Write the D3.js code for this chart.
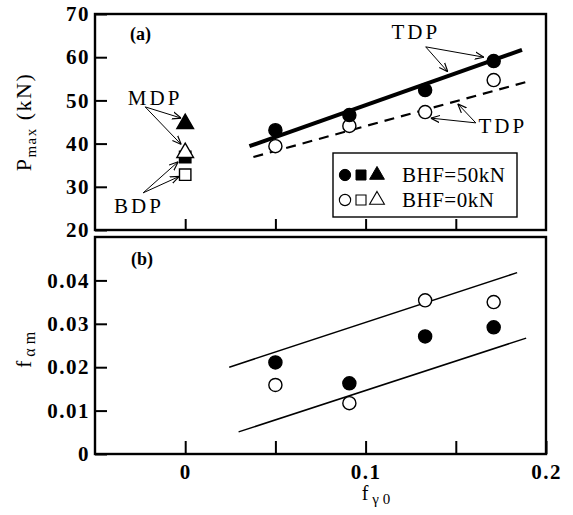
<!DOCTYPE html>
<html>
<head>
<meta charset="utf-8">
<script src="https://cdn.jsdelivr.net/npm/d3@7"></script>
<style>
  body { margin: 0; background: #fff; }
  svg { display: block; }
  text { font-family: "Liberation Serif", "Times New Roman", serif; fill: #000; }
</style>
</head>
<body>
<div id="chart"></div>
<script>
// ---------------------------------------------------
// DATA
// ---------------------------------------------------
const fGamma0 = [0.05, 0.091, 0.133, 0.171];       // x positions of TDP tests
const pmaxBHF50 = [43.1, 46.6, 52.4, 59.1];        // filled circles, panel (a)
const pmaxBHF0 = [39.4, 44.1, 47.3, 54.7];         // open circles, panel (a)
const mdpPmax = [44.6, 37.9];                      // triangles at f=0 [BHF=50, BHF=0]
const bdpPmax = [36.9, 32.8];                      // squares at f=0   [BHF=50, BHF=0]
const famBHF50 = [0.0211, 0.0163, 0.0271, 0.0292]; // filled circles, panel (b)
const famBHF0 = [0.0159, 0.0117, 0.0354, 0.0350];  // open circles, panel (b)

const tdpLine50 = [[0.0356, 39.4], [0.1867, 61.7]];
const tdpLine0 = [[0.0378, 36.9], [0.191, 54.5]];
const famUpper = [[0.0244, 0.0200], [0.184, 0.0418]];
const famLower = [[0.0296, 0.0051], [0.189, 0.0267]];

const pTicks = [20, 30, 40, 50, 60, 70];
const famTicks = [0, 0.01, 0.02, 0.03, 0.04];
const xTicks = [0, 0.05, 0.1, 0.15, 0.2];
const xTickLabels = ["0", "", "0.1", "", "0.2"];

// annotations, in data units: label, label position, arrow start, arrow targets
const notes = [
  { text: "MDP", at: [-0.0167, 50.6], from: [-0.0222, 48.5], to: [[-0.0022, 45.9], [-0.0022, 39.8]] },
  { text: "BDP", at: [-0.0256, 25.6], from: [-0.0233, 28.6], to: [[-0.0039, 35.8], [-0.0033, 32.4]] },
  { text: "TDP", at: [0.1278, 65.8], from: [0.1333, 62.4], to: [[0.1656, 60.0], [0.1456, 56.6]] },
  { text: "TDP", at: [0.1761, 44.1], from: [0.1611, 44.8], to: [[0.1361, 45.9], [0.1511, 49.2]] }
];

// ---------------------------------------------------
// SVG + SCALES
// ---------------------------------------------------
const width = 573, height = 515;
const svg = d3.select("#chart").append("svg")
  .attr("width", width).attr("height", height);

const x = d3.scaleLinear().domain([-0.05, 0.2]).range([95, 546]);
const yA = d3.scaleLinear().domain([20, 70]).range([230, 14]);
const yB = d3.scaleLinear().domain([0, 0.05]).range([454, 237]);

const defs = svg.append("defs");
defs.append("marker")
  .attr("id", "arr")
  .attr("viewBox", "0 0 10 10")
  .attr("refX", 10).attr("refY", 5)
  .attr("markerWidth", 9).attr("markerHeight", 9)
  .attr("markerUnits", "userSpaceOnUse")
  .attr("orient", "auto")
  .append("path")
  .attr("d", "M0,1 L10,5 L0,9")
  .attr("fill", "none")
  .attr("stroke", "#000")
  .attr("stroke-width", 1.3);

// ---------------------------------------------------
// AXES (ticks point inward)
// ---------------------------------------------------
const styleAxis = (g) => {
  g.select(".domain").remove();
  g.selectAll(".tick line").attr("stroke", "#000").attr("stroke-width", 2);
  g.selectAll(".tick text")
    .attr("fill", "#000")
    .style("font-family", "'Liberation Serif', serif")
    .style("font-size", "21px")
    .style("font-weight", "bold")
    .style("letter-spacing", "1.5px");
};

svg.append("g").attr("transform", "translate(95,0)")
  .call(d3.axisLeft(yA).tickValues(pTicks).tickSize(-12).tickPadding(5).tickFormat(d3.format("d")))
  .call(styleAxis);

svg.append("g").attr("transform", "translate(95,0)")
  .call(d3.axisLeft(yB).tickValues(famTicks).tickSize(-12).tickPadding(5)
    .tickFormat(d => d === 0 ? "0" : d3.format(".2f")(d)))
  .call(styleAxis);

svg.append("g").attr("transform", "translate(0,230)")
  .call(d3.axisBottom(x).tickValues(xTicks.slice(0, 4)).tickSize(-11).tickFormat(""))
  .call(styleAxis);

svg.append("g").attr("transform", "translate(0,454)")
  .call(d3.axisBottom(x).tickValues(xTicks).tickSize(-13).tickPadding(10)
    .tickFormat((d, i) => xTickLabels[i]))
  .call(styleAxis);

// panel frames
[[yA, 20, 70], [yB, 0, 0.05]].forEach(([y, lo, hi]) => {
  svg.append("rect")
    .attr("x", x(-0.05)).attr("y", y(hi))
    .attr("width", x(0.2) - x(-0.05)).attr("height", y(lo) - y(hi))
    .attr("fill", "none").attr("stroke", "#000").attr("stroke-width", 2.4);
});

// ---------------------------------------------------
// AXIS TITLES + PANEL LABELS
// ---------------------------------------------------
const pTitle = svg.append("text")
  .attr("transform", "translate(31,122) rotate(-90)")
  .attr("text-anchor", "middle")
  .style("font-size", "22px")
  .style("letter-spacing", "1.5px");
pTitle.append("tspan").text("P");
pTitle.append("tspan").attr("dy", 5).style("font-size", "15px").text("max");
pTitle.append("tspan").attr("dy", -5).text(" (kN)");

const fTitle = svg.append("text")
  .attr("transform", "translate(31,350) rotate(-90)")
  .attr("text-anchor", "middle")
  .style("font-size", "22px");
fTitle.append("tspan").text("f");
fTitle.append("tspan").attr("dy", 4).style("font-size", "16px").text(" α m");

const xTitle = svg.append("text")
  .attr("x", 376).attr("y", 500)
  .attr("text-anchor", "middle")
  .style("font-size", "20px");
xTitle.append("tspan").text("f");
xTitle.append("tspan").attr("dy", 4).style("font-size", "15px").text(" γ 0");

svg.append("text").attr("x", 130).attr("y", 40)
  .style("font-size", "18px").style("font-weight", "bold").text("(a)");
svg.append("text").attr("x", 131).attr("y", 265)
  .style("font-size", "18px").style("font-weight", "bold").text("(b)");

// ---------------------------------------------------
// LINES
// ---------------------------------------------------
const lineA = d3.line().x(d => x(d[0])).y(d => yA(d[1]));
const lineB = d3.line().x(d => x(d[0])).y(d => yB(d[1]));

svg.append("path").attr("d", lineA(tdpLine50))
  .attr("fill", "none").attr("stroke", "#000").attr("stroke-width", 4);
svg.append("path").attr("d", lineA(tdpLine0))
  .attr("fill", "none").attr("stroke", "#000").attr("stroke-width", 2.2)
  .attr("stroke-dasharray", "10,7");
svg.selectAll(".fam-line")
  .data([famUpper, famLower])
  .join("path")
  .attr("class", "fam-line")
  .attr("d", lineB)
  .attr("fill", "none").attr("stroke", "#000").attr("stroke-width", 1.5);

// ---------------------------------------------------
// MARKERS
// ---------------------------------------------------
const circleSym = d3.symbol().type(d3.symbolCircle).size(135);
const squareSym = d3.symbol().type(d3.symbolSquare).size(130);
const triSym = d3.symbol().type(d3.symbolTriangle).size(120);

const drawPoints = (vals, y, filled) => {
  svg.append("g").selectAll("path")
    .data(vals)
    .join("path")
    .attr("transform", (d, i) => `translate(${x(fGamma0[i])},${y(d)})`)
    .attr("d", circleSym)
    .attr("fill", filled ? "#000" : "#fff")
    .attr("stroke", "#000").attr("stroke-width", 1.4);
};
drawPoints(pmaxBHF0, yA, false);
drawPoints(pmaxBHF50, yA, true);
drawPoints(famBHF0, yB, false);
drawPoints(famBHF50, yB, true);

// f=0 markers: squares first, then triangles (open triangle overlaps filled square)
const atZero = [
  { sym: squareSym, v: bdpPmax[0], filled: true },
  { sym: squareSym, v: bdpPmax[1], filled: false },
  { sym: triSym, v: mdpPmax[0], filled: true },
  { sym: triSym, v: mdpPmax[1], filled: false }
];
svg.append("g").selectAll("path")
  .data(atZero)
  .join("path")
  .attr("transform", d => `translate(${x(0)},${yA(d.v)})`)
  .attr("d", d => d.sym())
  .attr("fill", d => d.filled ? "#000" : "#fff")
  .attr("stroke", "#000").attr("stroke-width", 1.4);

// ---------------------------------------------------
// ANNOTATIONS
// ---------------------------------------------------
notes.forEach(n => {
  svg.append("text")
    .attr("x", x(n.at[0])).attr("y", yA(n.at[1]))
    .attr("text-anchor", "middle").attr("dy", "0.35em")
    .style("font-size", "21px").style("letter-spacing", "3px")
    .text(n.text);
  n.to.forEach(t => {
    svg.append("line")
      .attr("x1", x(n.from[0])).attr("y1", yA(n.from[1]))
      .attr("x2", x(t[0])).attr("y2", yA(t[1]))
      .attr("stroke", "#000").attr("stroke-width", 1)
      .attr("marker-end", "url(#arr)");
  });
});

// ---------------------------------------------------
// LEGEND
// ---------------------------------------------------
const legend = svg.append("g").attr("transform", "translate(333,153)");
legend.append("rect")
  .attr("width", 184).attr("height", 64)
  .attr("fill", "#fff").attr("stroke", "#000").attr("stroke-width", 1.4);

const legendRows = [
  { label: "BHF=50kN", filled: true },
  { label: "BHF=0kN", filled: false }
];
const legendSyms = [
  d3.symbol().type(d3.symbolCircle).size(100),
  d3.symbol().type(d3.symbolSquare).size(100),
  d3.symbol().type(d3.symbolTriangle).size(95)
];
legendRows.forEach((r, i) => {
  const row = legend.append("g").attr("transform", `translate(0,${22 + i * 25})`);
  legendSyms.forEach((s, j) => {
    row.append("path")
      .attr("transform", `translate(${12 + j * 16},0)`)
      .attr("d", s())
      .attr("fill", r.filled ? "#000" : "#fff")
      .attr("stroke", "#000").attr("stroke-width", r.filled ? 1 : 1.1);
  });
  row.append("text")
    .attr("x", 69).attr("dy", "0.35em")
    .style("font-size", "21px").style("letter-spacing", "0.5px")
    .text(r.label);
});
</script>
</body>
</html>
